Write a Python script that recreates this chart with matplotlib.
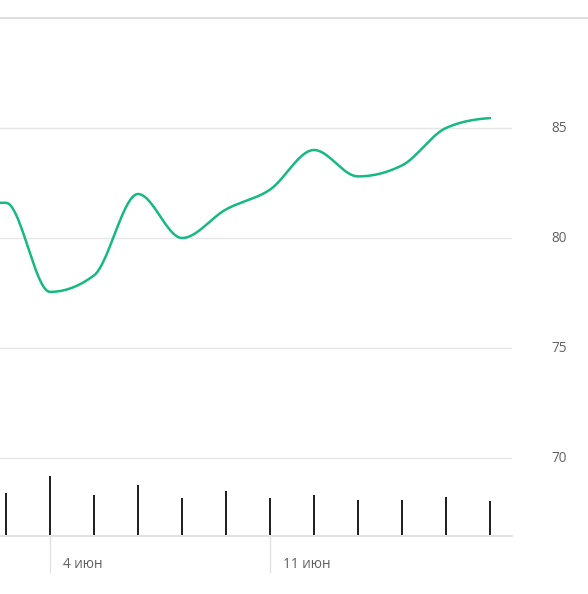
import numpy as np
import matplotlib
matplotlib.use("Agg")
import matplotlib.pyplot as plt
from matplotlib.lines import Line2D

# ---- data ----
dates = ["1 июн", "4 июн", "5 июн", "6 июн", "7 июн", "8 июн",
         "11 июн", "12 июн", "13 июн", "14 июн", "15 июн", "18 июн"]
prices = [81.6, 77.55, 78.3, 82.0, 80.0, 81.3, 82.2, 84.0, 82.8, 83.3, 85.0, 85.45]
volumes = [43, 60, 41, 51, 38, 45, 38, 41, 36, 36, 39, 35]
tick_labels = {1: "4 июн", 6: "11 июн"}
y_ticks = [70, 75, 80, 85]

plt.rcParams['font.family'] = ['Open Sans', 'DejaVu Sans']

W, H = 588, 594
fig = plt.figure(figsize=(W / 100, H / 100), dpi=100)

def rect(x0, y0, x1, y1):
    return [x0 / W, 1 - y1 / H, (x1 - x0) / W, (y1 - y0) / H]

# monotone cubic interpolation (Fritsch-Carlson / d3 monotoneX style)
def monotone(x, y, n=40):
    x = np.asarray(x, float); y = np.asarray(y, float)
    h = np.diff(x); s = np.diff(y) / h
    m = np.zeros_like(y)
    for i in range(1, len(y) - 1):
        p = (s[i - 1] * h[i] + s[i] * h[i - 1]) / (h[i - 1] + h[i])
        m[i] = (np.sign(s[i - 1]) + np.sign(s[i])) * min(abs(s[i - 1]), abs(s[i]), 0.5 * abs(p))
    m[0] = 0.0
    m[-1] = s[-1] * 0.3
    xs, ys = [], []
    for i in range(len(x) - 1):
        t = np.linspace(0, 1, n)
        h00 = 2 * t**3 - 3 * t**2 + 1
        h10 = t**3 - 2 * t**2 + t
        h01 = -2 * t**3 + 3 * t**2
        h11 = t**3 - t**2
        xs.append(x[i] + t * h[i])
        ys.append(h00 * y[i] + h10 * h[i] * m[i] + h01 * y[i + 1] + h11 * h[i] * m[i + 1])
    return np.concatenate(xs), np.concatenate(ys)

idx = np.arange(len(prices))
xl = (-6 / 44, (512 - 6) / 44)

# price axes
ax = fig.add_axes(rect(0, 18, 512, 536))
ax.set_xlim(*xl)
ax.set_ylim(70 - 78 / 22, 85 + 110 / 22)
for v in y_ticks:
    ax.axhline(v, color="#e6e6e6", lw=1.0, zorder=1)
xs, ys = monotone(idx, prices)
xs = np.concatenate([[xl[0]], xs]); ys = np.concatenate([[prices[0]], ys])
ax.plot(xs, ys, color="#17b982", lw=1.8, solid_capstyle="round", zorder=3)
ax.axis("off")

# volume axes
vax = fig.add_axes(rect(0, 436, 512, 536))
vax.set_xlim(*xl)
vax.set_ylim(0, 100)
vax.bar(idx, volumes, width=0.065, color="#222222", zorder=2)
vax.axis("off")

# frame lines
fig.add_artist(Line2D([0, 1], [1 - 18 / H] * 2, color="#d9d9d9", lw=1.2))
fig.add_artist(Line2D([0, 512 / W], [1 - 536 / H] * 2, color="#e3e3e3", lw=1.5))

# x tick marks & labels
for i, lab in tick_labels.items():
    px = 6 + 44 * i
    fig.text((px + 13) / W, 1 - 564 / H, lab, ha="left", va="center",
             fontsize=9.8, color="#606060")
    fig.add_artist(Line2D([px / W] * 2, [1 - 536 / H, 1 - 572 / H], color="#e3e3e3", lw=1.0))

# y labels on right
for v in y_ticks:
    py = 458 - (v - 70) * 22
    fig.text(551 / W, 1 - py / H, str(v), ha="left", va="center",
             fontsize=9.8, color="#606060")

fig.savefig("out.png", dpi=100, facecolor="white")
